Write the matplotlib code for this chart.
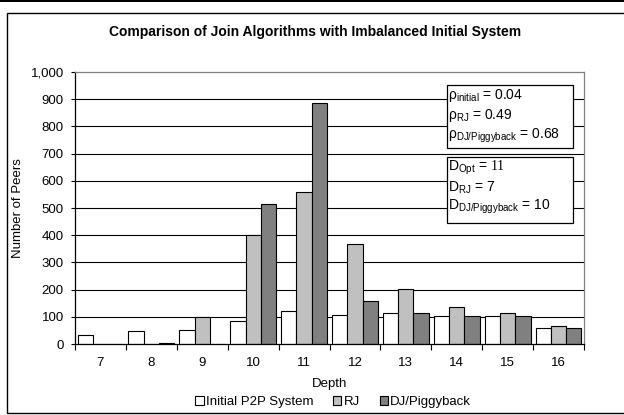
import matplotlib
matplotlib.use("Agg")
import matplotlib.pyplot as plt
from matplotlib.patches import Rectangle, Patch
from matplotlib.ticker import FuncFormatter, FixedLocator
import numpy as np

plt.rcParams['font.family'] = ['Liberation Sans', 'DejaVu Sans']
plt.rcParams['mathtext.fontset'] = 'custom'
plt.rcParams['mathtext.rm'] = 'Liberation Sans'
plt.rcParams['mathtext.it'] = 'Liberation Sans:italic'
plt.rcParams['mathtext.bf'] = 'Liberation Sans:bold'
plt.rcParams['mathtext.sf'] = 'Liberation Serif'

# ---- data ----
depths = ['7', '8', '9', '10', '11', '12', '13', '14', '15', '16']
initial = [32, 46, 53, 86, 120, 108, 115, 102, 102, 60]
rj = [0, 0, 99, 400, 557, 368, 203, 135, 115, 67]
dj = [0, 4, 0, 514, 885, 159, 115, 102, 102, 59]
series_names = ['Initial P2P System', 'RJ', 'DJ/Piggyback']
series_colors = ['#FFFFFF', '#C0C0C0', '#808080']
yticks = [0, 100, 200, 300, 400, 500, 600, 700, 800, 900, 1000]
title = 'Comparison of Join Algorithms with Imbalanced Initial System'
box1_lines = [r'ρ$_{\mathrm{initial}}$ = 0.04',
              r'ρ$_{\mathrm{RJ}}$ = 0.49',
              r'ρ$_{\mathrm{DJ/Piggyback}}$ = 0.68']
box2_lines = [r'D$_{\mathrm{Opt}}$ = $\mathsf{11}$',
              r'D$_{\mathrm{RJ}}$ = 7',
              r'D$_{\mathrm{DJ/Piggyback}}$ = 10']

W, H = 624, 415
FS = 9.5
fig = plt.figure(figsize=(W / 100, H / 100), dpi=100)


def fx(x):
    return x / W


def fy(y):
    return 1 - y / H


# outer decorations
fig.patches.append(Rectangle((0, fy(2.5)), 1, 2.5 / H, transform=fig.transFigure,
                             facecolor='black', edgecolor='none', zorder=0))
fig.patches.append(Rectangle((fx(7), fy(413)), fx(630) - fx(7), (413 - 13) / H,
                             transform=fig.transFigure, facecolor='none',
                             edgecolor='black', linewidth=1.0, zorder=0))

ax_l, ax_r, ax_t, ax_b = 75, 584, 72, 344
ax = fig.add_axes([fx(ax_l), fy(ax_b), (ax_r - ax_l) / W, (ax_b - ax_t) / H])

x = np.arange(len(depths))
w = 0.3
for i, (vals, col) in enumerate(zip([initial, rj, dj], series_colors)):
    ax.bar(x + (i - 1) * w, vals, width=w, color=col, edgecolor='black',
           linewidth=0.8, zorder=3)

ax.set_xlim(-0.5, len(depths) - 0.5)
ax.set_ylim(0, 1000)
ax.set_yticks(yticks)
ax.yaxis.set_major_formatter(FuncFormatter(lambda v, p: f'{int(v):,}'))
ax.set_xticks(x)
ax.set_xticklabels(depths)
ax.xaxis.set_minor_locator(FixedLocator(np.arange(-0.5, len(depths), 1.0)))
ax.tick_params(axis='x', which='major', length=0, pad=9, labelsize=FS)
ax.tick_params(axis='x', which='minor', length=4, width=0.8, direction='out', color='black')
ax.tick_params(axis='y', length=3, width=0.8, direction='out', pad=5, labelsize=FS)

for yv in yticks[1:-1]:
    ax.axhline(yv, color='black', linewidth=0.8, zorder=1)
ax.spines['left'].set_color('black')
ax.spines['bottom'].set_color('black')
ax.spines['top'].set_color('#808080')
ax.spines['right'].set_color('#808080')
for s in ax.spines.values():
    s.set_linewidth(0.9)
ax.spines['bottom'].set_zorder(4)

fig.text(fx(315), fy(32), title, ha='center', va='center', fontsize=10, fontweight='bold')
fig.text(fx(329.5), fy(384), 'Depth', ha='center', va='center', fontsize=FS)
fig.text(fx(18), fy(208), 'Number of Peers', ha='center', va='center', fontsize=FS, rotation=90)

# annotation boxes
for (top, bot, lines, ys) in [(85, 148, box1_lines, [95, 115, 136]),
                               (157, 223, box2_lines, [168, 188, 207])]:
    fig.patches.append(Rectangle((fx(447), fy(bot)), (573 - 447) / W, (bot - top) / H,
                                 transform=fig.transFigure, facecolor='white',
                                 edgecolor='black', linewidth=0.9, zorder=5))
    for ln, yy in zip(lines, ys):
        fig.text(fx(448), fy(yy), ln, ha='left', va='center', fontsize=10, zorder=6)

handles = [Patch(facecolor=c, edgecolor='black', linewidth=0.8) for c in series_colors]
fig.legend(handles, series_names, loc='center', bbox_to_anchor=(fx(333), fy(402)),
           ncol=3, frameon=False, fontsize=FS, handlelength=0.65, handleheight=0.65,
           handletextpad=0.15, columnspacing=1.5, borderpad=0)

fig.savefig('out.png', dpi=100)
